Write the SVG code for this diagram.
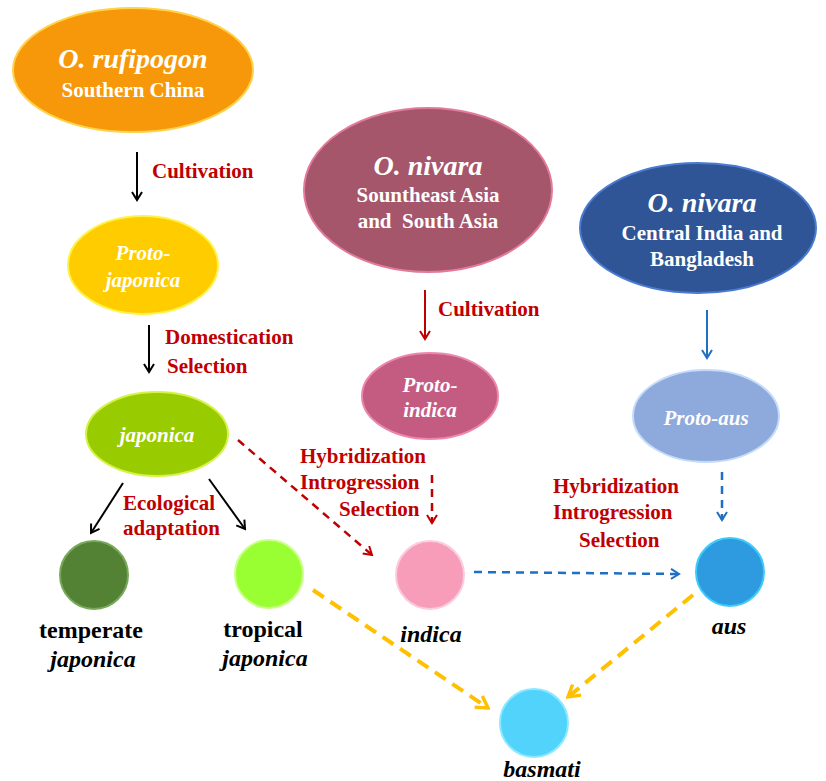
<svg xmlns="http://www.w3.org/2000/svg" width="826" height="781" viewBox="0 0 826 781">
<defs>
<style>
text{font-family:"Liberation Serif","Times New Roman",serif;font-weight:bold}
.w{fill:#fff}
.r{fill:#C00000}
.k{fill:#000}
.i{font-style:italic}
.c{text-anchor:middle}
.big{font-size:28px}
.md{font-size:21px}
.lg{font-size:24px}
.sol{fill:none;stroke-width:2}
.dash{fill:none;stroke-width:2.5;stroke-dasharray:8 6}
.yel{fill:none;stroke:#FFC000;stroke-width:4;stroke-dasharray:13 8}
</style>
<marker id="ak" viewBox="0 0 12 12" refX="10" refY="6" markerWidth="12" markerHeight="12" markerUnits="userSpaceOnUse" orient="auto"><path d="M2,1 L10,6 L2,11" fill="none" stroke="#000" stroke-width="2"/></marker>
<marker id="ar" viewBox="0 0 12 12" refX="10" refY="6" markerWidth="12" markerHeight="12" markerUnits="userSpaceOnUse" orient="auto"><path d="M2,1 L10,6 L2,11" fill="none" stroke="#C00000" stroke-width="2"/></marker>
<marker id="ab" viewBox="0 0 12 12" refX="10" refY="6" markerWidth="12" markerHeight="12" markerUnits="userSpaceOnUse" orient="auto"><path d="M2,1 L10,6 L2,11" fill="none" stroke="#1F6FC4" stroke-width="2"/></marker>
<marker id="ay" viewBox="0 0 14 14" refX="12" refY="7" markerWidth="16" markerHeight="16" markerUnits="userSpaceOnUse" orient="auto"><path d="M2,1 L12,7 L2,13" fill="none" stroke="#FFC000" stroke-width="3"/></marker>
</defs>
<rect width="826" height="781" fill="#fff"/>

<g id="connectors">
<line class="sol" stroke="#000" x1="137" y1="152" x2="137" y2="200" marker-end="url(#ak)"/>
<line class="sol" stroke="#000" x1="149" y1="325" x2="149" y2="372" marker-end="url(#ak)"/>
<line class="sol" stroke="#000" x1="123" y1="483" x2="91" y2="533" marker-end="url(#ak)"/>
<line class="sol" stroke="#000" x1="209" y1="479" x2="245" y2="529" marker-end="url(#ak)"/>
<line class="sol" stroke="#C00000" x1="425" y1="290" x2="425" y2="339" marker-end="url(#ar)"/>
<line class="sol" stroke="#1F6FC4" x1="707" y1="310" x2="707" y2="358" marker-end="url(#ab)"/>
<line class="dash" stroke="#C00000" x1="238" y1="440" x2="372" y2="555" marker-end="url(#ar)"/>
<line class="dash" stroke="#C00000" x1="432" y1="475" x2="432" y2="523" marker-end="url(#ar)"/>
<line class="dash" stroke="#1F6FC4" x1="722" y1="472" x2="722" y2="520" marker-end="url(#ab)"/>
<line class="dash" stroke="#1F6FC4" stroke-dasharray="10 8" x1="474" y1="572" x2="679" y2="574" marker-end="url(#ab)"/>
<line class="yel" x1="313" y1="590" x2="488" y2="708" marker-end="url(#ay)"/>
<line class="yel" x1="693" y1="595" x2="568" y2="697" marker-end="url(#ay)"/>
<text class="r md" x="152" y="178">Cultivation</text>
<text class="r md" x="165" y="344">Domestication</text>
<text class="r md" x="167" y="373">Selection</text>
<text class="r md" x="123" y="510">Ecological</text>
<text class="r md" x="123" y="535">adaptation</text>
<text class="r md" x="438" y="316">Cultivation</text>
<text class="r md" x="300" y="463">Hybridization</text>
<text class="r md" x="300" y="489">Introgression</text>
<text class="r md" x="339" y="516">Selection</text>
<text class="r md" x="553" y="493">Hybridization</text>
<text class="r md" x="553" y="519">Introgression</text>
<text class="r md" x="579" y="547">Selection</text>
</g>

<g id="rufipogon">
<ellipse cx="133" cy="70" rx="120" ry="62" fill="#F7980A" stroke="#FFD24A" stroke-width="2"/>
<text class="w big i c" x="133" y="68">O. rufipogon</text>
<text class="w md c" x="133" y="97">Southern China</text>
</g>
<g id="proto-japonica">
<ellipse cx="143" cy="265" rx="75" ry="49" fill="#FFCC00" stroke="#FFF24D" stroke-width="2"/>
<text class="w md i c" x="143" y="260">Proto-</text>
<text class="w md i c" x="143" y="287">japonica</text>
</g>
<g id="japonica">
<ellipse cx="157" cy="434" rx="71" ry="42" fill="#99CC00" stroke="#D4F24A" stroke-width="2"/>
<text class="w md i c" x="157" y="442">japonica</text>
</g>
<g id="temperate">
<circle cx="94" cy="575" r="34" fill="#548235" stroke="#78A95A" stroke-width="2"/>
<text class="k lg c" x="91" y="638">temperate</text>
<text class="k lg i c" x="93" y="667">japonica</text>
</g>
<g id="tropical">
<circle cx="269" cy="574" r="34" fill="#99FF33" stroke="#CCFF88" stroke-width="2"/>
<text class="k lg c" x="263" y="637">tropical</text>
<text class="k lg i c" x="265" y="666">japonica</text>
</g>
<g id="nivara-sea">
<ellipse cx="428" cy="190" rx="124" ry="82" fill="#A5566B" stroke="#E27A9C" stroke-width="2"/>
<text class="w big i c" x="428" y="175">O. nivara</text>
<text class="w md c" x="428" y="202">Sountheast Asia</text>
<text class="w md c" x="428" y="228" xml:space="preserve">and  South Asia</text>
</g>
<g id="proto-indica">
<ellipse cx="430" cy="396" rx="68" ry="43" fill="#C45C82" stroke="#EC86AB" stroke-width="2"/>
<text class="w md i c" x="430" y="392">Proto-</text>
<text class="w md i c" x="430" y="417">indica</text>
</g>
<g id="nivara-ci">
<ellipse cx="698" cy="228" rx="118" ry="65" fill="#2F5597" stroke="#4A7BD0" stroke-width="2"/>
<text class="w big i c" x="702" y="212">O. nivara</text>
<text class="w md c" x="702" y="240">Central India and</text>
<text class="w md c" x="702" y="266">Bangladesh</text>
</g>
<g id="proto-aus">
<ellipse cx="706" cy="416" rx="73" ry="46" fill="#8EA9DB" stroke="#C4DBFA" stroke-width="2"/>
<text class="w md i c" x="706" y="425">Proto-aus</text>
</g>
<g id="indica">
<circle cx="430" cy="575" r="34" fill="#F79DBA" stroke="#FCCBE0" stroke-width="2"/>
<text class="k lg i c" x="431" y="642">indica</text>
</g>
<g id="aus">
<circle cx="730" cy="572" r="34" fill="#2E9AE0" stroke="#3ECBFA" stroke-width="2"/>
<text class="k lg i c" x="729" y="634">aus</text>
</g>
<g id="basmati">
<circle cx="534" cy="723" r="34" fill="#52D3FB" stroke="#8AE8FF" stroke-width="2"/>
<text class="k lg i c" x="542" y="777">basmati</text>
</g>
</svg>
